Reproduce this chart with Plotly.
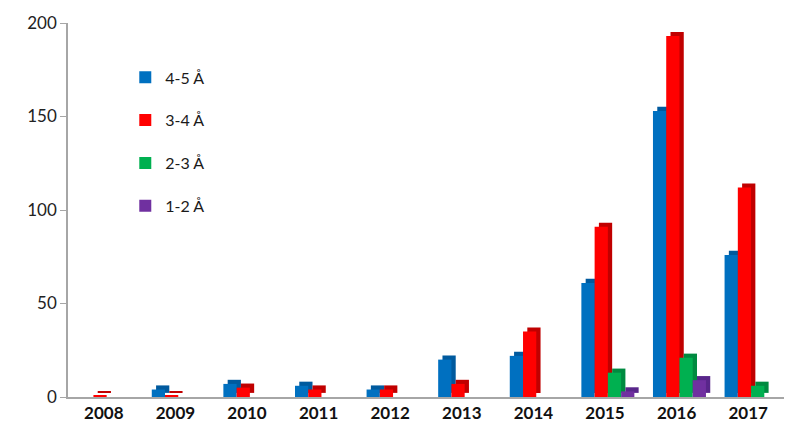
import plotly.graph_objects as go

years = ["2008", "2009", "2010", "2011", "2012", "2013", "2014", "2015", "2016", "2017"]
series_names = ["4-5 Å", "3-4 Å", "2-3 Å", "1-2 Å"]
v_45 = [0, 4, 7, 6, 4, 20, 22, 61, 153, 76]
v_34 = [1, 1, 5, 4, 4, 7, 35, 91, 193, 112]
v_23 = [0, 0, 0, 0, 0, 0, 0, 13, 21, 6]
v_12 = [0, 0, 0, 0, 0, 0, 0, 3, 9, 0]
values = [v_45, v_34, v_23, v_12]
front_colors = ["#0070C0", "#FF0000", "#00B050", "#7030A0"]
side_colors = ["#005A9E", "#C00000", "#008A40", "#58268A"]

bar_w = 0.185
depth_x = 0.06
depth_y = 2.2
start = -0.36 + 0.03

fig = go.Figure()

# 3D side/top faces (drawn first, behind)
for i, (vals, sc) in enumerate(zip(values, side_colors)):
    bases = [depth_y if v > 0 else None for v in vals]
    heights = [v if v > 0 else None for v in vals]
    fig.add_trace(go.Bar(
        x=years, y=heights, base=bases,
        offset=start + i * bar_w + depth_x, width=bar_w,
        marker=dict(color=sc, line=dict(width=0)), showlegend=False, hoverinfo="skip"))

# Front faces
for i, (vals, name, fc) in enumerate(zip(values, series_names, front_colors)):
    fig.add_trace(go.Bar(
        x=years, y=[v if v > 0 else None for v in vals], name=name,
        offset=start + i * bar_w, width=bar_w,
        marker=dict(color=fc, line=dict(width=0)), legendgroup=name))

fig.update_layout(
    width=800, height=443,
    barmode="overlay",
    plot_bgcolor="white", paper_bgcolor="white",
    margin=dict(l=68, r=16, t=23, b=46),
    font=dict(family="Lato, 'Open Sans', sans-serif", color="#1a1a1a"),
    legend=dict(x=0.08, y=0.9, xanchor="left", yanchor="top",
                font=dict(size=16, family="Lato, sans-serif"),
                tracegroupgap=19, bgcolor="rgba(0,0,0,0)"),
    showlegend=True,
)
fig.update_xaxes(type="category", showline=True, linecolor="#A6A6A6", linewidth=1.5,
                 ticks="", tickfont=dict(size=17, family="Lato, sans-serif", color="#111"),
                 tickprefix="<b>", ticksuffix="</b>", showgrid=False, range=[-0.5, 9.5])
fig.update_yaxes(range=[0, 200], tickvals=[0, 50, 100, 150, 200], showgrid=False,
                 showline=True, linecolor="#A6A6A6", linewidth=1.5, ticks="outside",
                 ticklen=6, tickcolor="#A6A6A6", tickfont=dict(size=17, color="#222"),
                 zeroline=False)

fig.write_html("out.html", config={"displayModeBar": False},
               post_script="document.body.style.margin='0';document.body.style.overflow='hidden';")
